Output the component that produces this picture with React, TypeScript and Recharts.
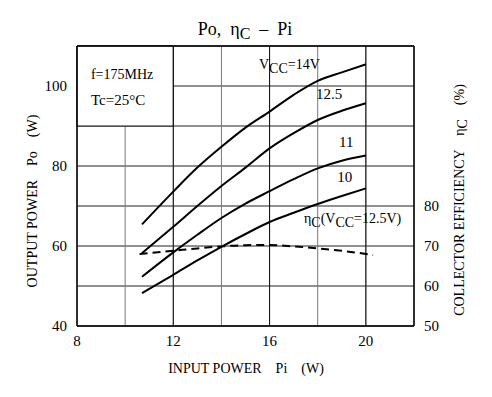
import {
  LineChart,
  Line,
  XAxis,
  YAxis,
  CartesianGrid,
  ReferenceArea,
  ReferenceLine,
  ReferenceDot,
} from 'recharts'

// input power (W) where the output curves were read
const piPoints = [10.7, 12, 13, 14, 15, 16, 17, 18, 19, 20]
// output power Po (W) per supply voltage
const po14 = [65.4, 73.6, 79.6, 84.8, 89.6, 93.6, 97.8, 101.3, 103.4, 105.4]
const po125 = [58.2, 64.8, 70, 75, 79.6, 84.4, 88.2, 91.5, 93.8, 95.7]
const po11 = [52.3, 58.4, 62.8, 67, 70.6, 73.7, 76.7, 79.4, 81.3, 82.6]
const po10 = [48.2, 52.8, 56.4, 59.8, 63, 66, 68.3, 70.5, 72.5, 74.4]

// collector efficiency at Vcc = 12.5V
const effPi = [10.6, 12, 13, 14, 15, 16, 17, 18, 19, 20, 20.3]
const eff125 = [68, 68.8, 69.4, 69.9, 70.2, 70.25, 69.9, 69.4, 68.8, 68, 67.7]

const xTicks = [8, 10, 12, 14, 16, 18, 20, 22]
const xLabels = [8, 12, 16, 20]
const poTicks = [40, 50, 60, 70, 80, 90, 100, 110]
const poLabels = [40, 60, 80, 100]
const effTicks = [50, 60, 70, 80]

const FONT = '"Liberation Serif", "Times New Roman", serif'

const toSeries = (xs: number[], ys: number[]) =>
  xs.map((pi, i) => ({ pi, v: ys[i] }))

const series = [
  { key: 'v14', data: toSeries(piPoints, po14) },
  { key: 'v125', data: toSeries(piPoints, po125) },
  { key: 'v11', data: toSeries(piPoints, po11) },
  { key: 'v10', data: toSeries(piPoints, po10) },
]
const effData = toSeries(effPi, eff125)

// text drawn at a data point: parts are [text, subscript?]
function PartsLabel({ viewBox, parts, size = 14 }: any) {
  if (!viewBox) return null
  return (
    <text
      x={viewBox.x}
      y={viewBox.y}
      fontFamily={FONT}
      fontSize={size}
      fill="#000"
      style={{ whiteSpace: 'pre' }}
    >
      {parts.map((p: [string, boolean], i: number) => (
        <tspan
          key={i}
          dy={i === 0 ? 0 : p[1] ? 4 : parts[i - 1][1] ? -4 : 0}
        >
          {p[0]}
        </tspan>
      ))}
    </text>
  )
}

function textAt(x: number, y: number, parts: [string, boolean][], size = 14) {
  return (
    <ReferenceDot
      key={`${x}-${y}`}
      yAxisId="po"
      x={x}
      y={y}
      r={1}
      fill="none"
      stroke="none"
      label={<PartsLabel parts={parts} size={size} />}
    />
  )
}

export default function App() {
  return (
    <div style={{ position: 'relative', width: 492, height: 397, background: '#fff', fontFamily: FONT }}>
      <style>{'body{margin:0;background:#fff}'}</style>
      <LineChart
        width={492}
        height={397}
        margin={{ top: 46, right: 33, bottom: 41, left: 32 }}
      >
        <CartesianGrid yAxisId="po" vertical={false} stroke="#222" strokeWidth={1} />
        <CartesianGrid yAxisId="po" horizontal={false} stroke="#777" strokeWidth={1} />
        <XAxis
          type="number"
          dataKey="pi"
          domain={[8, 22]}
          ticks={xTicks}
          allowDataOverflow
          tickLine={false}
          axisLine={{ stroke: '#000', strokeWidth: 1.5 }}
          tick={{ fontSize: 15, fill: '#000', fontFamily: FONT }}
          tickFormatter={(v) => (xLabels.includes(v) ? String(v) : '')}
          height={30}
          tickMargin={3}
        />
        <YAxis
          yAxisId="po"
          type="number"
          domain={[40, 110]}
          ticks={poTicks}
          allowDataOverflow
          tickLine={false}
          axisLine={{ stroke: '#000', strokeWidth: 1.5 }}
          tick={{ fontSize: 15, fill: '#000', fontFamily: FONT }}
          tickFormatter={(v) => (poLabels.includes(v) ? String(v) : '')}
          width={45}
          tickMargin={4}
        />
        <YAxis
          yAxisId="eff"
          orientation="right"
          type="number"
          domain={[50, 120]}
          ticks={effTicks}
          allowDataOverflow
          tickLine={false}
          axisLine={{ stroke: '#000', strokeWidth: 1.5 }}
          tick={{ fontSize: 15, fill: '#000', fontFamily: FONT }}
          width={45}
          tickMargin={4}
        />

        {/* darker main grid lines */}
        {xLabels.slice(1).map((x) => (
          <ReferenceLine key={x} yAxisId="po" x={x} stroke="#111" />
        ))}
        <ReferenceLine yAxisId="po" y={110} stroke="#000" strokeWidth={1.5} />

        {/* condition box */}
        <ReferenceArea
          yAxisId="po"
          x1={8}
          x2={12}
          y1={90}
          y2={110}
          fill="#fff"
          fillOpacity={1}
          stroke="#111"
        />
        {textAt(8.62, 101.5, [['f=175MHz', false]], 14)}
        {textAt(8.62, 95, [['Tc=25°C', false]], 15)}

        {series.map((s) => (
          <Line
            key={s.key}
            yAxisId="po"
            data={s.data}
            dataKey="v"
            type="monotone"
            stroke="#000"
            strokeWidth={2}
            dot={false}
            isAnimationActive={false}
          />
        ))}
        <Line
          yAxisId="eff"
          data={effData}
          dataKey="v"
          type="monotone"
          stroke="#000"
          strokeWidth={2}
          strokeDasharray="8 5"
          dot={false}
          isAnimationActive={false}
        />

        {textAt(15.6, 104, [['V', false], ['CC', true], ['=14V', false]])}
        {textAt(17.97, 96.5, [['12.5', false]], 15)}
        {textAt(18.93, 84.5, [['11', false]], 15)}
        {textAt(18.85, 75.7, [['10', false]], 15)}
        {textAt(17.47, 65.5, [['η', false], ['C', true], ['(V', false], ['CC', true], ['=12.5V)', false]])}

        <text
          x={245}
          y={35}
          textAnchor="middle"
          fontFamily={FONT}
          fontSize={18}
          style={{ whiteSpace: 'pre' }}
        >
          <tspan>{'Po,  η'}</tspan>
          <tspan dy={4} fontSize={16}>C</tspan>
          <tspan dy={-4}>{'  –  Pi'}</tspan>
        </text>
        <text
          x={246}
          y={373}
          textAnchor="middle"
          fontFamily={FONT}
          fontSize={14}
          style={{ whiteSpace: 'pre' }}
        >
          {'INPUT POWER    Pi    (W)'}
        </text>
        <text
          transform="translate(37,201) rotate(-90)"
          textAnchor="middle"
          fontFamily={FONT}
          fontSize={14}
          style={{ whiteSpace: 'pre' }}
        >
          {'OUTPUT POWER    Po    (W)'}
        </text>
        <text
          transform="translate(464,200) rotate(-90)"
          textAnchor="middle"
          fontFamily={FONT}
          fontSize={14}
          style={{ whiteSpace: 'pre' }}
        >
          <tspan>{'COLLECTOR EFFICIENCY    η'}</tspan>
          <tspan dy={3}>C</tspan>
          <tspan dy={-3}>{'    (%)'}</tspan>
        </text>
      </LineChart>
    </div>
  )
}
